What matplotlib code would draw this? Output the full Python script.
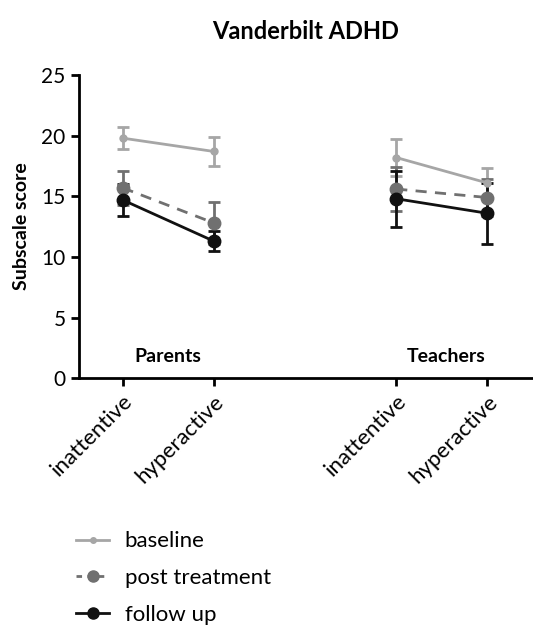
import numpy as np
import matplotlib.pyplot as plt
from matplotlib.lines import Line2D

plt.rcParams['font.family'] = ['Lato', 'DejaVu Sans']

labels = ['inattentive', 'hyperactive', 'inattentive', 'hyperactive']
xpos = [0, 1, 3, 4]

# parents (first two), teachers (last two)
baseline = [19.8, 18.7, 18.2, 16.1]
baseline_err = [0.9, 1.2, 1.5, 1.2]
post = [15.7, 12.8, 15.6, 14.9]
post_err = [1.4, 1.7, 1.8, 1.5]
follow = [14.7, 11.3, 14.8, 13.6]
follow_err = [1.3, 0.8, 2.3, 2.5]

fig = plt.figure(figsize=(5.33, 6.26), dpi=100)
ax = fig.add_axes([0.148, 0.396, 0.852, 0.484])

def draw(vals, errs, color, ms, ls, lw):
    for sl in (slice(0, 2), slice(2, 4)):
        ax.errorbar(xpos[sl], vals[sl], yerr=errs[sl], color=color, marker='o',
                    ms=ms, ls=ls, lw=lw, elinewidth=2, capsize=4, capthick=2)

draw(baseline, baseline_err, '#a6a6a6', 5, '-', 2)
draw(post, post_err, '#707070', 9, (0, (4, 3)), 2)
draw(follow, follow_err, '#111111', 9, '-', 2)

ax.set_xlim(-0.48, 4.5)
ax.set_ylim(0, 25)
ax.set_yticks([0, 5, 10, 15, 20, 25])
ax.set_xticks(xpos)
ax.set_xticklabels(labels, rotation=45, ha='right', rotation_mode='anchor', fontsize=16)
ax.tick_params(axis='y', labelsize=15, width=2, length=6)
ax.tick_params(axis='x', width=2, length=6)
for s in ['top', 'right']:
    ax.spines[s].set_visible(False)
for s in ['left', 'bottom']:
    ax.spines[s].set_linewidth(2)

ax.set_ylabel('Subscale score', fontsize=14, fontweight='bold', labelpad=8)
ax.set_title('Vanderbilt ADHD', fontsize=17, fontweight='bold', pad=26, x=0.5)
ax.text(0.5, 1.3, 'Parents', ha='center', fontsize=14, fontweight='bold')
ax.text(3.55, 1.3, 'Teachers', ha='center', fontsize=14, fontweight='bold')

handles = [
    Line2D([], [], color='#a6a6a6', marker='o', ms=4, lw=2),
    Line2D([], [], color='#707070', marker='o', ms=8, lw=2, ls=(0, (2, 2))),
    Line2D([], [], color='#111111', marker='o', ms=8, lw=2),
]
fig.legend(handles, ['baseline', 'post treatment', 'follow up'], loc='lower left',
           bbox_to_anchor=(0.105, -0.03), frameon=False, fontsize=16,
           handlelength=1.5, handletextpad=0.7, labelspacing=0.75)

fig.savefig('out.png', dpi=100)
